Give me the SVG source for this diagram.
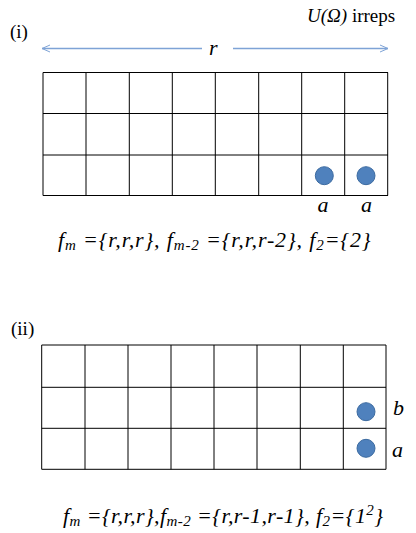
<svg xmlns="http://www.w3.org/2000/svg" width="416" height="533" viewBox="0 0 416 533">
<defs>
<marker id="ah" markerWidth="10" markerHeight="10" refX="9" refY="5" orient="auto-start-reverse" markerUnits="userSpaceOnUse">
<path d="M1,1.5 L9,5 L1,8.5" fill="none" stroke="#7ea3d6" stroke-width="1"/>
</marker>
<style>
.i{font-style:italic}
.g{stroke:#000;stroke-width:1;fill:none}
.dot{fill:#4f81bd;stroke:#3b6aa0;stroke-width:1}
.ar{stroke:#7ea3d6;stroke-width:1.3;fill:none}
.f{font-style:italic;font-size:22px}
.s{font-size:15px}
</style>
</defs>
<rect width="416" height="533" fill="#fff"/>
<g font-family="Liberation Serif, Times New Roman, serif" fill="#000">
<g id="label-i"><text x="10" y="38" font-size="19">(i)</text></g>
<g id="legend"><text x="307" y="22" font-size="19"><tspan class="i">U(Ω)</tspan> irreps</text></g>

<g id="connectors">
<line class="ar" x1="202" y1="48.5" x2="42" y2="48.5" marker-end="url(#ah)"/>
<line class="ar" x1="233" y1="48.5" x2="388" y2="48.5" marker-end="url(#ah)"/>
</g>
<g id="r-label"><text class="i" x="209" y="55" font-size="22">r</text></g>

<g id="grid-i">
<path class="g" d="M43,72.5H388M43,113.5H388M43,155H388M43,195.5H388M43,72.5V195.5M86,72.5V195.5M129.3,72.5V195.5M172.3,72.5V195.5M215.3,72.5V195.5M258.7,72.5V195.5M301.7,72.5V195.5M344.7,72.5V195.5M387.7,72.5V195.5"/>
<circle class="dot" cx="324.3" cy="175.7" r="9"/>
<circle class="dot" cx="366" cy="175.7" r="9"/>
<text class="i" x="323" y="212" font-size="22" text-anchor="middle">a</text>
<text class="i" x="366.5" y="212" font-size="22" text-anchor="middle">a</text>
</g>

<g id="formula-i">
<text class="f" x="58" y="247" letter-spacing="0.85">f<tspan class="s" dy="3">m</tspan><tspan dy="-3"> ={r,r,r}, f</tspan><tspan class="s" dy="3">m-2</tspan><tspan dy="-3"> ={r,r,r-2}, f</tspan><tspan class="s" dy="3">2</tspan><tspan dy="-3">={2}</tspan></text>
</g>

<g id="label-ii"><text x="11" y="335" font-size="19">(ii)</text></g>

<g id="grid-ii">
<path class="g" d="M41.7,345H386M41.7,387.3H386M41.7,428.3H386M41.7,469.3H386M41.7,345V469.3M85,345V469.3M128,345V469.3M171,345V469.3M214,345V469.3M257,345V469.3M300.3,345V469.3M343.3,345V469.3M386,345V469.3"/>
<circle class="dot" cx="366" cy="411.7" r="9"/>
<circle class="dot" cx="366" cy="448.3" r="9"/>
<text class="i" x="393" y="415" font-size="22">b</text>
<text class="i" x="392" y="457" font-size="22">a</text>
</g>

<g id="formula-ii">
<text class="f" x="63" y="523" letter-spacing="0.4">f<tspan class="s" dy="3">m</tspan><tspan dy="-3"> ={r,r,r},f</tspan><tspan class="s" dy="3">m-2</tspan><tspan dy="-3"> ={r,r-1,r-1}, f</tspan><tspan class="s" dy="3">2</tspan><tspan dy="-3">={1</tspan><tspan class="s" dy="-8">2</tspan><tspan dy="8">}</tspan></text>
</g>
</g>
</svg>
